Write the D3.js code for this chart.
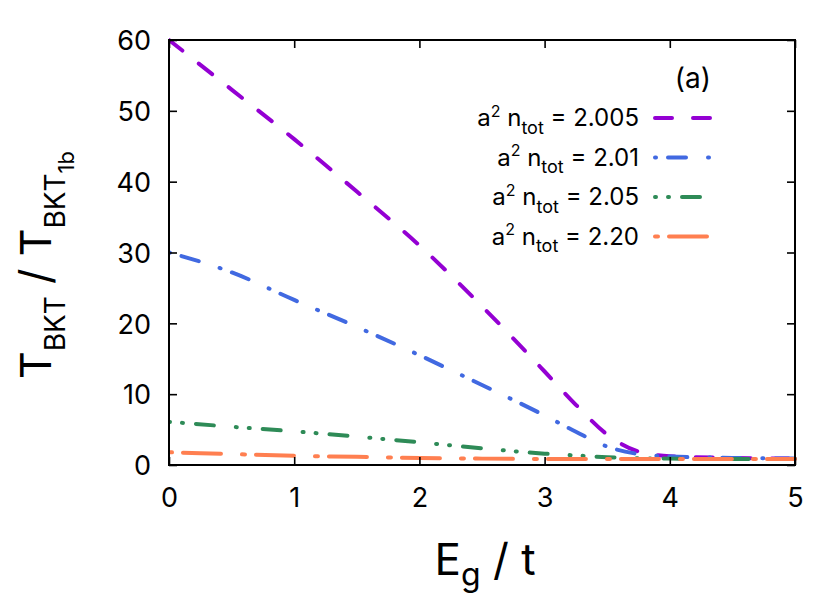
<!DOCTYPE html>
<html>
<head>
<meta charset="utf-8">
<script src="https://d3js.org/d3.v7.min.js"></script>
<style>
  body { margin: 0; background: #fff; }
  svg text { font-family: Inter, "Liberation Sans", sans-serif; fill: #000; }
</style>
</head>
<body>
<svg id="chart" width="831" height="602"></svg>
<script>
// x values (E_g / t) shared by all curves
var gapValues = [0, 0.5, 1, 1.5, 2, 2.5, 3, 3.25, 3.5, 3.75, 4, 4.5, 5];

// T_BKT / T_BKT1b for each density
var ratio2005 = [60, 53, 46, 38.6, 31, 22.4, 13.2, 8.5, 4.3, 1.9, 1.25, 1.0, 0.9];
var ratio201  = [30, 27.2, 23.3, 19.5, 15.5, 11.3, 7.0, 4.7, 2.6, 1.55, 1.2, 1.0, 0.9];
var ratio205  = [6.1, 5.4, 4.75, 4.0, 3.2, 2.35, 1.6, 1.35, 1.1, 0.95, 0.9, 0.85, 0.85];
var ratio220  = [1.8, 1.55, 1.3, 1.15, 1.0, 0.9, 0.85, 0.85, 0.85, 0.85, 0.85, 0.85, 0.85];

var legendValues = ["2.005", "2.01", "2.05", "2.20"];
var xTicks = [0, 1, 2, 3, 4, 5];
var yTicks = [0, 10, 20, 30, 40, 50, 60];

(function(){
    var svg = d3.select("#chart");
    var left = 169, right = 795, top = 40, bottom = 465;

    var x = d3.scaleLinear().domain([0, 5]).range([left, right]);
    var y = d3.scaleLinear().domain([0, 60]).range([bottom, top]);

    // line styles, gnuplot-ish dash patterns (round caps)
    var series = [
        {values: ratio2005, color: "#9400d3", dash: "17,21"},
        {values: ratio201,  color: "#4169e1", dash: "1,12,18,22"},
        {values: ratio205,  color: "#2e8b57", dash: "1,12,1,13,18,22"},
        {values: ratio220,  color: "#ff7f50", dash: "3,11,38,21"}
    ];

    var line = d3.line()
        .x(function(d) { return x(d[0]); })
        .y(function(d) { return y(d[1]); })
        .curve(d3.curveMonotoneX);

    svg.append("clipPath").attr("id", "plotclip")
        .append("rect")
        .attr("x", left).attr("y", top - 3)
        .attr("width", right - left + 3).attr("height", bottom - top + 3);

    // curves
    svg.append("g").attr("clip-path", "url(#plotclip)")
        .selectAll("path")
        .data(series)
        .enter().append("path")
        .attr("d", function(s) {
            return line(gapValues.map(function(g, i) { return [g, s.values[i]]; }));
        })
        .attr("fill", "none")
        .attr("stroke", function(s) { return s.color; })
        .attr("stroke-width", 4)
        .attr("stroke-linecap", "round")
        .attr("stroke-dasharray", function(s) { return s.dash; });

    // axes: ticks point inward on all four sides
    var tickFont = 27;
    var bottomAxis = svg.append("g")
        .attr("transform", "translate(0," + bottom + ")")
        .call(d3.axisBottom(x).tickValues(xTicks).tickFormat(d3.format("d"))
            .tickSizeInner(-8).tickSizeOuter(0).tickPadding(23));
    var topAxis = svg.append("g")
        .attr("transform", "translate(0," + top + ")")
        .call(d3.axisTop(x).tickValues(xTicks).tickSizeInner(-8).tickSizeOuter(0).tickFormat(""));
    var leftAxis = svg.append("g")
        .attr("transform", "translate(" + left + ",0)")
        .call(d3.axisLeft(y).tickValues(yTicks).tickSizeInner(-8).tickSizeOuter(0).tickPadding(18));
    var rightAxis = svg.append("g")
        .attr("transform", "translate(" + right + ",0)")
        .call(d3.axisRight(y).tickValues(yTicks).tickSizeInner(-8).tickSizeOuter(0).tickFormat(""));

    [bottomAxis, topAxis, leftAxis, rightAxis].forEach(function(a) {
        a.select(".domain").remove();
        a.selectAll("line").attr("stroke", "#000").attr("stroke-width", 1.6);
        a.selectAll("text").attr("font-size", tickFont).attr("font-family", "Inter").attr("fill", "#000");
    });
    leftAxis.selectAll("text").attr("dy", "0.36em");

    // frame
    svg.append("rect")
        .attr("x", left).attr("y", top)
        .attr("width", right - left).attr("height", bottom - top)
        .attr("fill", "none").attr("stroke", "#000").attr("stroke-width", 2);

    // axis titles
    var xl = svg.append("text")
        .attr("x", 485).attr("y", 575)
        .attr("text-anchor", "middle")
        .attr("font-size", 44);
    xl.append("tspan").text("E");
    xl.append("tspan").attr("font-size", 32).attr("dy", 11).text("g");
    xl.append("tspan").attr("dy", -11).text(" / t");

    var yl = svg.append("text")
        .attr("transform", "translate(51,265) rotate(-90)")
        .attr("text-anchor", "middle")
        .attr("font-size", 43);
    yl.append("tspan").text("T");
    yl.append("tspan").attr("font-size", 28).attr("dy", 14).text("BKT");
    yl.append("tspan").attr("dy", -14).text(" / T");
    yl.append("tspan").attr("font-size", 28).attr("dy", 14).text("BKT");
    yl.append("tspan").attr("font-size", 22).attr("dy", 9).text("1b");

    // panel tag
    svg.append("text")
        .attr("x", 711).attr("y", 88)
        .attr("text-anchor", "end")
        .attr("font-size", 28)
        .text("(a)");

    // legend
    var legend = svg.append("g");
    var rowY = d3.scalePoint().domain(legendValues).range([126, 244.5]);
    var rows = legend.selectAll("g")
        .data(series)
        .enter().append("g")
        .attr("transform", function(s, i) { return "translate(0," + rowY(legendValues[i]) + ")"; });

    var labels = rows.append("text")
        .attr("x", 639).attr("y", 0)
        .attr("text-anchor", "end")
        .attr("font-size", 24);
    labels.append("tspan").text("a");
    labels.append("tspan").attr("font-size", 16).attr("dy", -9.5).text("2");
    labels.append("tspan").attr("dy", 9.5).text(" n");
    labels.append("tspan").attr("font-size", 18).attr("dy", 7.5).text("tot");
    labels.append("tspan").attr("dy", -7.5).text(function(s, i) { return " = " + legendValues[i]; });

    rows.append("line")
        .attr("x1", 655).attr("x2", 713)
        .attr("y1", -8).attr("y2", -8)
        .attr("stroke", function(s) { return s.color; })
        .attr("stroke-width", 4)
        .attr("stroke-linecap", "round")
        .attr("stroke-dasharray", function(s) { return s.dash; });
})();
</script>
</body>
</html>
